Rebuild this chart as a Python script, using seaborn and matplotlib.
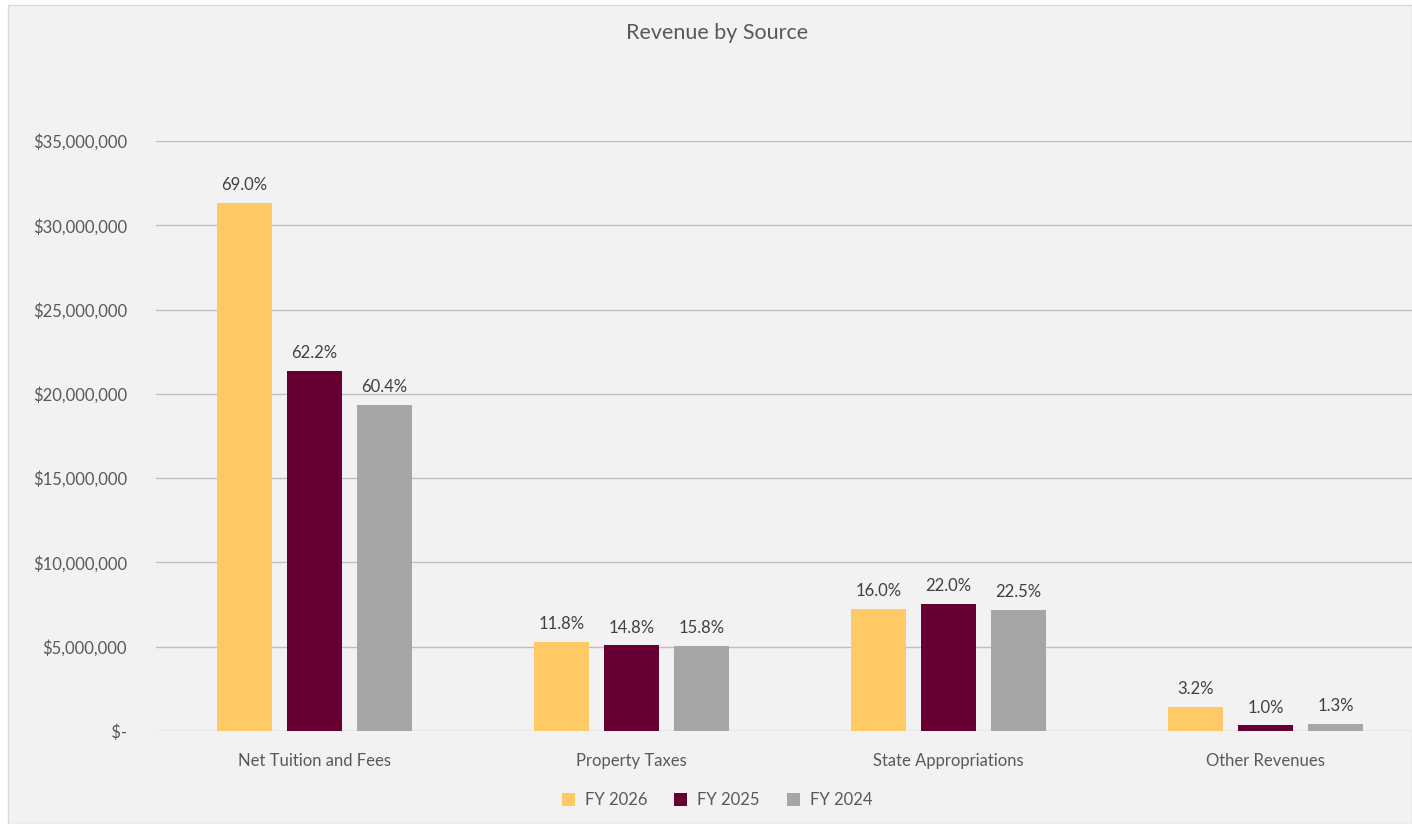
import matplotlib.pyplot as plt
import matplotlib.patches as mpatches
from matplotlib.ticker import FuncFormatter
import pandas as pd
import seaborn as sns

# values
categories = ["Net Tuition and Fees", "Property Taxes", "State Appropriations", "Other Revenues"]
years = ["FY 2026", "FY 2025", "FY 2024"]
fy2026 = [31320000, 5300000, 7260000, 1450000]
fy2025 = [21350000, 5080000, 7550000, 340000]
fy2024 = [19340000, 5060000, 7200000, 420000]
pct2026 = ["69.0%", "11.8%", "16.0%", "3.2%"]
pct2025 = ["62.2%", "14.8%", "22.0%", "1.0%"]
pct2024 = ["60.4%", "15.8%", "22.5%", "1.3%"]
colors = ["#FFCA66", "#660033", "#A6A6A6"]

df = pd.DataFrame({
    "source": categories * 3,
    "year": [years[0]] * 4 + [years[1]] * 4 + [years[2]] * 4,
    "amount": fy2026 + fy2025 + fy2024,
})

sns.set_style("white")
plt.rcParams['font.family'] = ['Lato', 'DejaVu Sans']
txt = "#595959"

fig = plt.figure(figsize=(14.12, 8.24), dpi=100)
fig.patch.set_facecolor("white")
bg = mpatches.Rectangle((8 / 1412, 0), 1 - 8 / 1412, 1 - 5 / 824, transform=fig.transFigure,
                        facecolor="#F2F2F2", edgecolor="#D9D9D9", linewidth=1, zorder=-10)
fig.patches.append(bg)

# plot area runs past the right edge, like the cropped original
ax = fig.add_axes([156 / 1412, (824 - 731) / 824, (1424 - 156) / 1412, (731 - 141) / 824])
ax.set_facecolor("#F2F2F2")
sns.barplot(data=df, x="source", y="amount", hue="year", hue_order=years, order=categories,
            palette=colors, width=0.663, gap=0.214, ax=ax, saturation=1, legend=True,
            linewidth=0, edgecolor="none")

for cont, labs in zip(ax.containers, [pct2026, pct2025, pct2024]):
    ax.bar_label(cont, labels=labs, padding=7, fontsize=12, color="#404040")

ax.set_ylim(0, 35000000)
ax.set_yticks(range(0, 35000001, 5000000))
ax.yaxis.set_major_formatter(FuncFormatter(lambda v, p: " $-" if v == 0 else f"${v:,.0f}"))
ax.grid(axis="y", color="#BFBFBF", linewidth=1)
ax.set_axisbelow(True)
for s in ax.spines.values():
    s.set_visible(False)
ax.tick_params(axis="both", length=0, labelsize=12, colors=txt)
ax.tick_params(axis="y", pad=21)
ax.tick_params(axis="x", pad=16)
ax.set_xlabel("")
ax.set_ylabel("")

fig.text(717 / 1412, 1 - 33 / 824, "Revenue by Source", ha="center", va="center", fontsize=15.5, color=txt)

ax.legend(loc="center", bbox_to_anchor=(717 / 1412, 1 - 800 / 824), bbox_transform=fig.transFigure,
          ncol=3, frameon=False, fontsize=12, labelcolor=txt, handlelength=0.8, handleheight=0.8,
          columnspacing=1.6, handletextpad=0.6)

fig.savefig("out.png", dpi=100, facecolor=fig.get_facecolor())
